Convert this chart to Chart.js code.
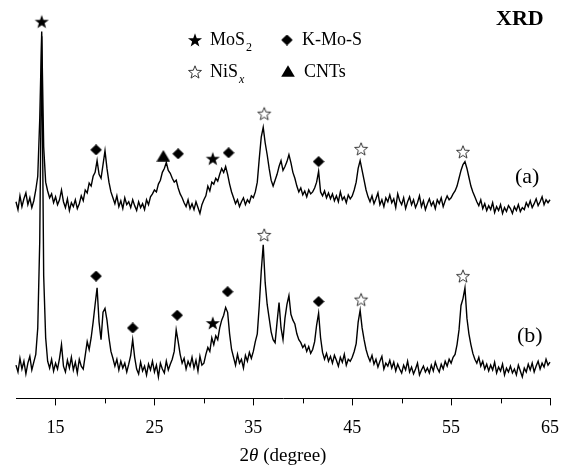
<!DOCTYPE html>
<html>
<head>
<meta charset="utf-8">
<script src="https://cdn.jsdelivr.net/npm/chart.js@4/dist/chart.umd.min.js"></script>
<style>
body { margin: 0; background: #fff; }
#wrap { position: relative; width: 576px; height: 475px; font-family: "Liberation Serif", "Times New Roman", serif; color: #000; }
.t { position: absolute; white-space: nowrap; line-height: 1; }
.sub { font-size: 12px; position: relative; top: 6px; margin-left: 1px; }
</style>
</head>
<body>
<div id="wrap">
  <canvas id="chart" width="576" height="475"></canvas>
  <div class="t" style="left:496px;top:7px;font-size:22px;font-weight:bold">XRD</div>
  <div class="t" style="left:210px;top:30px;font-size:18px">MoS<span class="sub">2</span></div>
  <div class="t" style="left:302px;top:30px;font-size:18px">K-Mo-S</div>
  <div class="t" style="left:210px;top:62px;font-size:18px">NiS<span class="sub" style="font-style:italic">x</span></div>
  <div class="t" style="left:304px;top:62px;font-size:18px">CNTs</div>
  <div class="t" style="left:515px;top:165px;font-size:22px">(a)</div>
  <div class="t" style="left:517px;top:324px;font-size:22px">(b)</div>
  <div class="t" style="left:183px;top:445px;width:200px;text-align:center;font-size:19px">2<i>θ</i> (degree)</div>
</div>
<script>
// 2theta grid of the scans (degrees)
const twoThetaStart = 11;
const twoThetaStep = 0.2;

// sample (a), raw intensity (a.u.), plotted shifted up by offsetA
const intensityA = [
  36, 28, 42, 31, 39, 45, 33, 40, 30, 37,
  48, 62, 120, 210, 92, 56, 47, 40, 44, 35,
  41, 33, 38, 48, 36, 30, 39, 27, 35, 31,
  38, 29, 34, 42, 37, 48, 45, 55, 52, 62,
  66, 78, 64, 60, 74, 88, 70, 56, 46, 40,
  34, 42, 31, 37, 29, 40, 33, 36, 30, 38,
  32, 27, 36, 30, 34, 28, 38, 33, 41, 44,
  48, 46, 54, 58, 66, 70, 76, 68, 65, 60,
  56, 58, 50, 44, 40, 35, 31, 38, 29, 34,
  28, 36, 30, 24, 33, 38, 42, 52, 47, 56,
  54, 60, 57, 64, 70, 66, 72, 64, 54, 46,
  40, 34, 38, 31, 36, 40, 33, 38, 35, 42,
  40, 46, 56, 80, 102, 112, 96, 84, 70, 58,
  52, 58, 64, 72, 78, 68, 72, 77, 84, 76,
  66, 60, 52, 46, 50, 43, 47, 41, 48, 44,
  46, 50, 56, 67, 46, 42, 47, 40, 45, 39,
  44, 37, 42, 36, 46, 38, 41, 35, 43, 39,
  42, 48, 56, 70, 78, 68, 58, 48, 41, 36,
  42, 34, 39, 45, 33, 38, 31, 40, 36, 43,
  35, 39, 30, 44, 37, 33, 40, 29, 36, 41,
  33, 38, 30, 35, 42, 31, 37, 28, 34, 39,
  32, 36, 29, 38, 34, 40, 31, 37, 42, 38,
  40, 44, 47, 52, 60, 68, 74, 77, 70, 61,
  52, 46, 41, 36, 32, 38, 29, 34, 27, 32,
  28, 35, 25, 31, 27, 33, 24, 30, 26, 32,
  29, 24, 31, 27, 33, 26, 30, 28, 35, 31,
  37, 30, 34, 39, 32, 36, 41, 33, 38, 35,
  38
];

// sample (b), raw intensity (a.u.)
const intensityB = [
  34, 27, 41, 30, 38, 25, 36, 43, 29, 37,
  45, 72, 160, 370, 125, 62, 38, 31, 40, 28,
  36, 30, 41, 55, 33, 27, 39, 31, 42, 29,
  37, 26, 40, 33, 30, 44, 58, 50, 62, 78,
  96, 113, 78, 60, 88, 92, 80, 62, 48, 41,
  33, 40, 29, 38, 31, 36, 27, 35, 44, 60,
  42, 30, 25, 37, 28, 33, 24, 35, 29, 38,
  27, 34, 22, 36, 30, 26, 38, 29, 35, 40,
  48, 70, 58, 45, 36, 41, 30, 38, 33, 42,
  31, 39, 28, 43, 34, 36, 45, 52, 48, 62,
  55, 64, 60, 72, 80, 85, 93, 88, 66, 50,
  42, 34, 45, 36, 40, 31, 44, 38, 47, 41,
  48, 58, 66, 95, 130, 157, 118, 96, 82, 68,
  60, 57, 78, 98, 72, 60, 82, 96, 105, 86,
  80, 76, 66, 60, 57, 52, 55, 48, 53, 46,
  50, 58, 75, 87, 62, 47, 40, 46, 38, 43,
  36, 44, 39, 33, 42, 37, 45, 34, 40, 38,
  42, 48, 56, 78, 90, 72, 60, 50, 43, 38,
  44, 35, 40, 32, 38, 43, 30, 36, 33, 39,
  31, 37, 28, 35, 30, 26, 34, 29, 38, 27,
  32, 25, 30, 36, 24, 29, 33, 27, 31, 26,
  34, 28, 37, 31, 27, 35, 30, 38, 33, 40,
  36, 42, 45, 55, 70, 95, 102, 113, 82, 66,
  55, 46, 40, 36, 42, 33, 38, 30, 35, 28,
  34, 29, 37, 26, 32, 28, 35, 24, 31, 27,
  33, 26, 30, 24, 34, 28, 22, 31, 27, 35,
  29, 36, 27, 33, 38, 30, 36, 32, 40, 34,
  37
];
const offsetA = 165;

const xTicks = [15, 25, 35, 45, 55, 65];
const xMinorTicks = [20, 30, 40, 50, 60];

// phase marks (2theta, plotted intensity where the symbol sits)
const marksMoS2 = [{x: 13.6, y: 385}, {x: 30.9, y: 245}, {x: 30.9, y: 77}];
const marksKMoS = [{x: 19.1, y: 254}, {x: 27.4, y: 250}, {x: 32.5, y: 251}, {x: 41.6, y: 242},
                   {x: 19.1, y: 125}, {x: 22.8, y: 72}, {x: 27.3, y: 85}, {x: 32.4, y: 109}, {x: 41.6, y: 99}];
const marksNiSx = [{x: 36.1, y: 291}, {x: 45.9, y: 255}, {x: 56.2, y: 252},
                   {x: 36.1, y: 167}, {x: 45.9, y: 101}, {x: 56.2, y: 125}];
const marksCNT = [{x: 25.9, y: 248}];

function icon(w, h, draw) {
  const c = document.createElement("canvas");
  c.width = w; c.height = h;
  const g = c.getContext("2d");
  draw(g);
  return c;
}

function starPath(g, cx, cy, ro, ri) {
  g.beginPath();
  for (let k = 0; k < 10; k++) {
    const r = k % 2 ? ri : ro;
    const a = -Math.PI / 2 + k * Math.PI / 5;
    g.lineTo(cx + r * Math.cos(a), cy + r * Math.sin(a));
  }
  g.closePath();
}

const starFull = icon(16, 16, g => { starPath(g, 8, 8.6, 7.4, 3); g.fillStyle = "#000"; g.fill(); });
const starOpen = icon(16, 16, g => { starPath(g, 8, 8.6, 6.8, 2.9); g.strokeStyle = "#222"; g.lineWidth = 0.9; g.stroke(); });
const diamond = icon(12, 11, g => {
  g.beginPath(); g.moveTo(6, 0); g.lineTo(11.8, 5.5); g.lineTo(6, 11); g.lineTo(0.2, 5.5); g.closePath();
  g.fillStyle = "#000"; g.fill();
});
const triangle = icon(14, 12, g => {
  g.beginPath(); g.moveTo(7, 0.3); g.lineTo(13.8, 11.7); g.lineTo(0.2, 11.7); g.closePath();
  g.fillStyle = "#000"; g.fill();
});

const scanA = intensityA.map((v, i) => ({x: twoThetaStart + i * twoThetaStep, y: v + offsetA}));
const scanB = intensityB.map((v, i) => ({x: twoThetaStart + i * twoThetaStep, y: v}));

const extras = {
  id: "extras",
  afterDraw(chart) {
    const ctx = chart.ctx;
    const x = chart.scales.x;
    const yb = chart.chartArea.bottom;
    ctx.save();
    ctx.strokeStyle = "#000";
    ctx.lineWidth = 1;
    xMinorTicks.forEach(v => {
      const px = Math.round(x.getPixelForValue(v)) + 0.5;
      ctx.beginPath();
      ctx.moveTo(px, yb);
      ctx.lineTo(px, yb + 5);
      ctx.stroke();
    });
    // legend symbols
    [[starFull, 195, 40], [diamond, 287, 40], [starOpen, 195, 72], [triangle, 288, 71]].forEach(([img, cx, cy]) => {
      ctx.drawImage(img, cx - img.width / 2, cy - img.height / 2);
    });
    ctx.restore();
  }
};

function marks(data, img) {
  return {data, pointStyle: img, pointRadius: 6, showLine: false, clip: false};
}

new Chart(document.getElementById("chart"), {
  type: "scatter",
  data: {
    datasets: [
      marks(marksMoS2, starFull),
      marks(marksKMoS, diamond),
      marks(marksNiSx, starOpen),
      marks(marksCNT, triangle),
      {data: scanA, showLine: true, borderColor: "#000", borderWidth: 1.4, pointRadius: 0, clip: false},
      {data: scanB, showLine: true, borderColor: "#000", borderWidth: 1.4, pointRadius: 0, clip: false}
    ]
  },
  options: {
    responsive: false,
    animation: false,
    events: [],
    layout: {padding: {left: 16, right: 26, top: 0, bottom: 24}},
    plugins: {legend: {display: false}, tooltip: {enabled: false}},
    scales: {
      x: {
        type: "linear",
        min: 11,
        max: 65,
        afterBuildTicks: s => { s.ticks = xTicks.map(v => ({value: v})); },
        grid: {drawOnChartArea: false, drawTicks: true, tickLength: 7, tickColor: "#000"},
        border: {display: true, color: "#000", width: 1},
        ticks: {color: "#000", padding: 12, maxRotation: 0, font: {family: "'Liberation Serif', serif", size: 18}}
      },
      y: {display: false, min: 0, max: 400}
    }
  },
  plugins: [extras]
});
</script>
</body>
</html>
